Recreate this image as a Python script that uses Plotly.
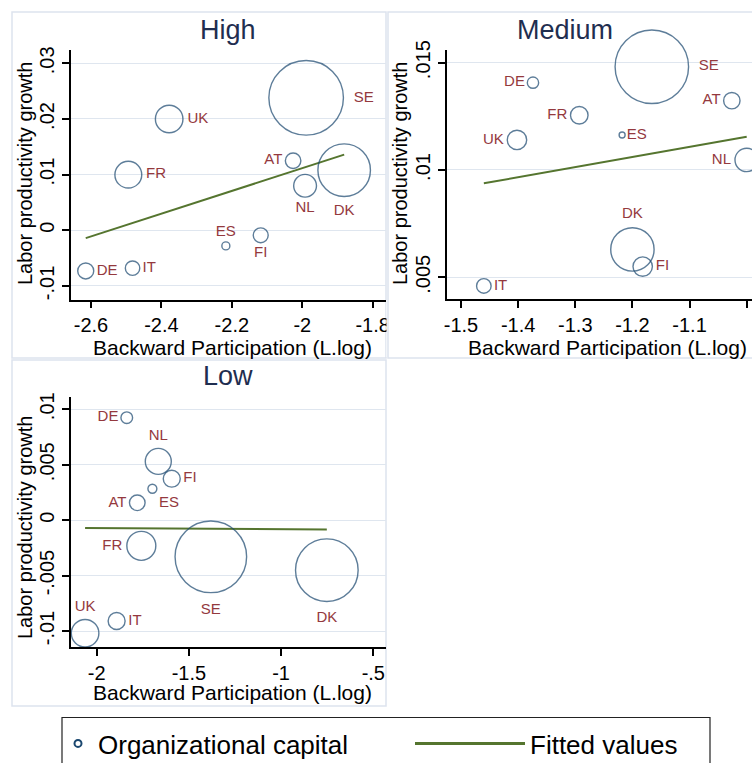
import plotly.graph_objects as go

# ---------------- data ----------------
countries_high = ["SE", "UK", "FR", "AT", "NL", "DK", "ES", "FI", "DE", "IT"]
backward_high = [-1.989, -2.378, -2.494, -2.026, -1.992, -1.881, -2.217, -2.118, -2.615, -2.482]
growth_high = [0.0238, 0.0200, 0.0100, 0.0125, 0.0080, 0.0108, -0.0028, -0.0009, -0.0073, -0.0068]
orgcap_high = [13.9, 1.9, 1.8, 0.6, 1.3, 6.9, 0.16, 0.56, 0.64, 0.52]
fit_x_high = [-2.615, -1.881]
fit_y_high = [-0.0014, 0.0136]

countries_medium = ["SE", "DE", "FR", "UK", "ES", "AT", "NL", "DK", "FI", "IT"]
backward_medium = [-1.166, -1.374, -1.293, -1.402, -1.218, -1.026, -1.000, -1.200, -1.182, -1.460]
growth_medium = [0.01481, 0.01407, 0.01255, 0.01140, 0.01163, 0.01323, 0.01047, 0.00630, 0.00550, 0.00460]
orgcap_medium = [13.5, 0.32, 0.77, 0.94, 0.09, 0.67, 1.37, 4.7, 0.94, 0.53]
fit_x_medium = [-1.460, -1.000]
fit_y_medium = [0.00938, 0.01155]

countries_low = ["DE", "NL", "FI", "ES", "AT", "FR", "SE", "DK", "UK", "IT"]
backward_low = [-1.837, -1.666, -1.593, -1.698, -1.780, -1.758, -1.381, -0.752, -2.063, -1.892]
growth_low = [0.00924, 0.00530, 0.00374, 0.00283, 0.00156, -0.00232, -0.00331, -0.00451, -0.01020, -0.00910]
orgcap_low = [0.34, 1.69, 0.72, 0.2, 0.61, 2.1, 12.8, 9.8, 1.9, 0.72]
fit_x_low = [-2.063, -0.752]
fit_y_low = [-0.00070, -0.00084]

xtick_high = [-2.6, -2.4, -2.2, -2.0, -1.8]
xtick_high_text = ["-2.6", "-2.4", "-2.2", "-2", "-1.8"]
ytick_high = [-0.01, 0.0, 0.01, 0.02, 0.03]
ytick_high_text = ["-.01", "0", ".01", ".02", ".03"]
xtick_medium = [-1.5, -1.4, -1.3, -1.2, -1.1, -1.0]
xtick_medium_text = ["-1.5", "-1.4", "-1.3", "-1.2", "-1.1", "-1"]
ytick_medium = [0.005, 0.01, 0.015]
ytick_medium_text = [".005", ".01", ".015"]
xtick_low = [-2.0, -1.5, -1.0, -0.5]
xtick_low_text = ["-2", "-1.5", "-1", "-.5"]
ytick_low = [-0.01, -0.005, 0.0, 0.005, 0.01]
ytick_low_text = ["-.01", "-.005", "0", ".005", ".01"]

# ---------------- style ----------------
FONT = "Liberation Sans, Arial, sans-serif"
NAVY = "#1a476f"
MAROON = "#94393e"
GREEN = "#55752f"
GRID = "#dfe6ef"
PANEL = "#dde3ee"
W, H = 752, 763

label_pos_high = ["middle right", "middle right", "middle right", "middle left", "bottom center",
                  "bottom center", "top center", "bottom center", "middle right", "middle right"]
label_pos_medium = ["middle right", "middle left", "middle left", "middle left", "middle right",
                    "middle left", "middle left", "top center", "middle right", "middle right"]
label_pos_low = ["middle left", "top center", "middle right", "bottom right", "middle left",
                 "middle left", "bottom center", "bottom center", "top center", "middle right"]


def px_x(p):
    return p / W


def px_y(p):
    return 1 - p / H


fig = go.Figure()

panels = [
    ("x", "y", backward_high, growth_high, orgcap_high, countries_high, label_pos_high, fit_x_high, fit_y_high),
    ("x2", "y2", backward_medium, growth_medium, orgcap_medium, countries_medium, label_pos_medium, fit_x_medium, fit_y_medium),
    ("x3", "y3", backward_low, growth_low, orgcap_low, countries_low, label_pos_low, fit_x_low, fit_y_low),
]

for xa, ya, bx, gy, oc, cc, lp, fx, fy in panels:
    fig.add_trace(go.Scatter(
        x=fx, y=fy, mode="lines", line=dict(color=GREEN, width=2),
        xaxis=xa, yaxis=ya, showlegend=False,
    ))
    fig.add_trace(go.Scatter(
        x=bx, y=gy, mode="markers+text", text=cc, textposition=lp,
        textfont=dict(family=FONT, size=15, color=MAROON),
        marker=dict(size=oc, sizemode="area", sizeref=0.005, color="rgba(0,0,0,0)",
                    line=dict(color=NAVY, width=1.4)),
        xaxis=xa, yaxis=ya, showlegend=False, cliponaxis=False,
    ))

# legend entries
fig.add_trace(go.Scatter(x=[None], y=[None], mode="markers", name="Organizational capital",
                         marker=dict(size=7, color="rgba(0,0,0,0)", line=dict(color=NAVY, width=2)),
                         legend="legend"))
fig.add_trace(go.Scatter(x=[None], y=[None], mode="lines", name="Fitted values",
                         line=dict(color=GREEN, width=3), legend="legend2"))

axis_common = dict(showline=True, linecolor="black", linewidth=1.5, ticks="outside", ticklen=7,
                   tickwidth=1.5, tickcolor="black", zeroline=False, mirror=False,
                   tickfont=dict(family=FONT, size=20, color="black"))
xcommon = dict(axis_common, showgrid=False)
ycommon = dict(axis_common, showgrid=True, gridcolor=GRID, gridwidth=1.2, tickangle=-90)

fig.update_layout(
    width=W, height=H, autosize=False,
    margin=dict(l=0, r=0, t=0, b=0, autoexpand=False),
    paper_bgcolor="white", plot_bgcolor="white",
    font=dict(family=FONT),
    xaxis=dict(xcommon, domain=[px_x(71), px_x(386)], range=[-2.6568, -1.7622],
               tickvals=xtick_high, ticktext=xtick_high_text, anchor="y"),
    yaxis=dict(ycommon, domain=[px_y(299.5), px_y(50)], range=[-0.01243, 0.03239],
               tickvals=ytick_high, ticktext=ytick_high_text, anchor="x"),
    xaxis2=dict(xcommon, domain=[px_x(446.7), 1.0], range=[-1.525, -0.9907],
                tickvals=xtick_medium, ticktext=xtick_medium_text, anchor="y2"),
    yaxis2=dict(ycommon, domain=[px_y(299), px_y(50)], range=[0.00399, 0.01559],
                tickvals=ytick_medium, ticktext=ytick_medium_text, anchor="x2"),
    xaxis3=dict(xcommon, domain=[px_x(71), px_x(386)], range=[-2.1394, -0.4311],
                tickvals=xtick_low, ticktext=xtick_low_text, anchor="y3"),
    yaxis3=dict(ycommon, domain=[px_y(647.3), px_y(397.3)], range=[-0.01147, 0.01108],
                tickvals=ytick_low, ticktext=ytick_low_text, anchor="x3"),
    legend=dict(x=px_x(58), y=px_y(720), xanchor="left", yanchor="top", orientation="h",
                font=dict(family=FONT, size=26, color="black"), borderwidth=0,
                bgcolor="rgba(0,0,0,0)", itemwidth=30),
    legend2=dict(x=px_x(410), y=px_y(720), xanchor="left", yanchor="top", orientation="h",
                 font=dict(family=FONT, size=26, color="black"), borderwidth=0,
                 bgcolor="rgba(0,0,0,0)", itemwidth=110),
)

shapes = [
    # hide part of the High axis labels past the panel edge
    dict(type="rect", xref="paper", yref="paper", x0=px_x(386.5), x1=px_x(444), y0=px_y(357), y1=px_y(300),
         fillcolor="white", line=dict(width=0), layer="above"),
    dict(type="rect", xref="paper", yref="paper", x0=px_x(12), x1=px_x(386), y0=px_y(358), y1=px_y(12),
         line=dict(color=PANEL, width=1.5), layer="below"),
    dict(type="rect", xref="paper", yref="paper", x0=px_x(388), x1=px_x(790), y0=px_y(358), y1=px_y(12),
         line=dict(color=PANEL, width=1.5), layer="above"),
    dict(type="rect", xref="paper", yref="paper", x0=px_x(12), x1=px_x(386), y0=px_y(706), y1=px_y(360),
         line=dict(color=PANEL, width=1.5), layer="below"),
    dict(type="rect", xref="paper", yref="paper", x0=px_x(62), x1=px_x(710), y0=px_y(800), y1=px_y(717.5),
         line=dict(color="#222222", width=1.2), layer="above"),
]
fig.update_layout(shapes=shapes)

TITLE_COLOR = "#1f2e50"
ann = []
for txt, x, y in [("High", 228, 30), ("Medium", 565, 30), ("Low", 228, 376)]:
    ann.append(dict(text=txt, x=px_x(x), y=px_y(y), xref="paper", yref="paper", showarrow=False,
                    xanchor="center", yanchor="middle", font=dict(family=FONT, size=27, color=TITLE_COLOR)))
for x, y in [(232, 347), (607, 347), (232, 692)]:
    ann.append(dict(text="Backward Participation (L.log)", x=px_x(x), y=px_y(y), xref="paper", yref="paper",
                    showarrow=False, xanchor="center", yanchor="middle",
                    font=dict(family=FONT, size=21, color="black")))
for x, y in [(25, 174), (400, 174), (25, 528)]:
    ann.append(dict(text="Labor productivity growth", x=px_x(x), y=px_y(y), xref="paper", yref="paper",
                    showarrow=False, xanchor="center", yanchor="middle", textangle=-90,
                    font=dict(family=FONT, size=20, color="black")))
fig.update_layout(annotations=ann)

fig.write_html("out.html", config={"displayModeBar": False},
               post_script="document.body.style.margin='0';document.documentElement.style.overflow='hidden';")
